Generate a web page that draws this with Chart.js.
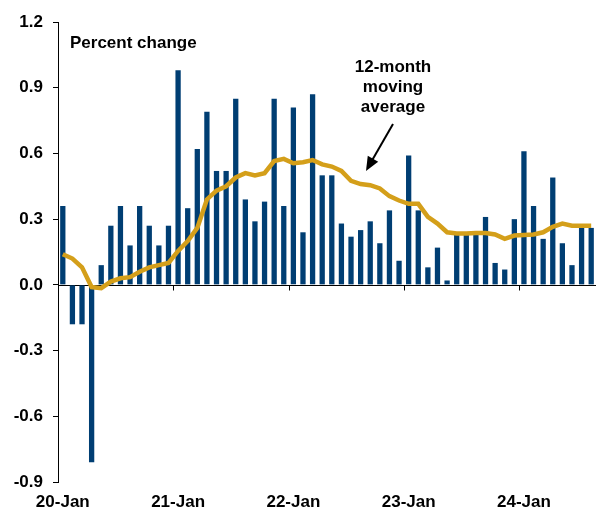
<!DOCTYPE html>
<html>
<head>
<meta charset="utf-8">
<script src="https://cdn.jsdelivr.net/npm/chart.js@4.4.1/dist/chart.umd.min.js"></script>
<style>
  html, body { margin: 0; padding: 0; background: #fff; }
  #wrap { width: 601px; height: 511px; position: relative; }
</style>
</head>
<body>
<div id="wrap"><canvas id="grafico"></canvas></div>
<script>
const months = [
    "Jan-20", "Feb-20", "Mar-20", "Apr-20", "May-20", "Jun-20", "Jul-20", "Aug-20", "Sep-20", "Oct-20", "Nov-20", "Dec-20",
    "Jan-21", "Feb-21", "Mar-21", "Apr-21", "May-21", "Jun-21", "Jul-21", "Aug-21", "Sep-21", "Oct-21", "Nov-21", "Dec-21",
    "Jan-22", "Feb-22", "Mar-22", "Apr-22", "May-22", "Jun-22", "Jul-22", "Aug-22", "Sep-22", "Oct-22", "Nov-22", "Dec-22",
    "Jan-23", "Feb-23", "Mar-23", "Apr-23", "May-23", "Jun-23", "Jul-23", "Aug-23", "Sep-23", "Oct-23", "Nov-23", "Dec-23",
    "Jan-24", "Feb-24", "Mar-24", "Apr-24", "May-24", "Jun-24", "Jul-24", "Aug-24"
];

const monthlyChange = [
    0.36, -0.18, -0.18, -0.81, 0.09, 0.27, 0.36, 0.18, 0.36, 0.27, 0.18, 0.27,
    0.98, 0.35, 0.62, 0.79, 0.52, 0.52, 0.85, 0.39, 0.29, 0.38, 0.85, 0.36,
    0.81, 0.24, 0.87, 0.50, 0.50, 0.28, 0.22, 0.25, 0.29, 0.19, 0.34, 0.11,
    0.59, 0.34, 0.08, 0.17, 0.02, 0.24, 0.24, 0.24, 0.31, 0.10, 0.07, 0.30,
    0.61, 0.36, 0.21, 0.49, 0.19, 0.09, 0.27, 0.26
];

const movingAverage = [
    0.14, 0.12, 0.08, -0.01, -0.015, 0.015, 0.03, 0.035, 0.06, 0.08, 0.09, 0.10,
    0.155, 0.20, 0.26, 0.39, 0.43, 0.45, 0.49, 0.51, 0.50, 0.51, 0.565, 0.575,
    0.555, 0.56, 0.57, 0.55, 0.54, 0.52, 0.475, 0.46, 0.455, 0.44, 0.405, 0.385,
    0.37, 0.37, 0.31, 0.28, 0.24, 0.235, 0.235, 0.237, 0.237, 0.23, 0.21, 0.225,
    0.228, 0.23, 0.24, 0.265, 0.28, 0.27, 0.27, 0.27
];

const yearLabels = ["20-Jan", "21-Jan", "22-Jan", "23-Jan", "24-Jan"];

const fonteNegrito = "bold 17px 'Liberation Sans', Arial, sans-serif";

// linha do zero, marcas de ano e textos
const extras = {
    id: "extras",
    beforeDatasetsDraw(chart) {
        const ctx = chart.ctx;
        const x = chart.scales.x;
        const y = chart.scales.y;
        const y0 = Math.round(y.getPixelForValue(0)) + 0.5;
        ctx.save();
        ctx.strokeStyle = "#000";
        ctx.lineWidth = 1;
        ctx.beginPath();
        ctx.moveTo(chart.chartArea.left, y0);
        ctx.lineTo(chart.chartArea.right, y0);
        for (let i = 12; i < months.length; i += 12) {
            const bx = Math.round((x.getPixelForValue(i - 1) + x.getPixelForValue(i)) / 2) + 0.5;
            ctx.moveTo(bx, y0);
            ctx.lineTo(bx, y0 + 5);
        }
        ctx.stroke();
        ctx.restore();
    },
    afterDraw(chart) {
        const ctx = chart.ctx;
        ctx.save();
        ctx.fillStyle = "#000";
        ctx.font = fonteNegrito;
        ctx.textBaseline = "middle";
        ctx.textAlign = "left";
        ctx.fillText("Percent change", 70, 43);
        ctx.textAlign = "center";
        ctx.fillText("12-month", 393, 67);
        ctx.fillText("moving", 393, 87);
        ctx.fillText("average", 393, 107);

        // seta
        const x1 = 393, y1 = 124, x2 = 366, y2 = 171;
        const ang = Math.atan2(y2 - y1, x2 - x1);
        ctx.strokeStyle = "#000";
        ctx.lineWidth = 2;
        ctx.beginPath();
        ctx.moveTo(x1, y1);
        ctx.lineTo(x2 - 10 * Math.cos(ang), y2 - 10 * Math.sin(ang));
        ctx.stroke();
        ctx.beginPath();
        ctx.moveTo(x2, y2);
        ctx.lineTo(x2 - 14 * Math.cos(ang) + 6 * Math.sin(ang), y2 - 14 * Math.sin(ang) - 6 * Math.cos(ang));
        ctx.lineTo(x2 - 14 * Math.cos(ang) - 6 * Math.sin(ang), y2 - 14 * Math.sin(ang) + 6 * Math.cos(ang));
        ctx.closePath();
        ctx.fill();
        ctx.restore();
    }
};

new Chart(document.getElementById("grafico"), {
    data: {
        labels: months,
        datasets: [{
            type: "line",
            label: "12-month moving average",
            data: movingAverage,
            borderColor: "#D49F1A",
            borderWidth: 4.5,
            pointRadius: 0,
            tension: 0,
            fill: false,
            order: 0
        }, {
            type: "bar",
            label: "Percent change",
            data: monthlyChange,
            backgroundColor: "#003E73",
            barPercentage: 0.55,
            categoryPercentage: 1,
            order: 1
        }]
    },
    options: {
        responsive: true,
        maintainAspectRatio: false,
        animation: false,
        layout: {
            padding: { left: 0, right: 5, top: 22, bottom: 0 }
        },
        plugins: {
            legend: { display: false },
            tooltip: { enabled: false }
        },
        scales: {
            x: {
                type: "category",
                offset: true,
                grid: { display: false },
                border: { display: false },
                ticks: {
                    autoSkip: false,
                    maxRotation: 0,
                    minRotation: 0,
                    padding: 2,
                    color: "#000",
                    font: { family: "'Liberation Sans', Arial, sans-serif", size: 17, weight: "bold" },
                    callback: function (value, index) {
                        return index % 12 === 0 ? yearLabels[index / 12] : "";
                    }
                },
                afterFit(scale) { scale.height = 29; }
            },
            y: {
                min: -0.9,
                max: 1.2,
                grid: {
                    drawOnChartArea: false,
                    drawTicks: true,
                    tickLength: 5,
                    color: "#000"
                },
                border: { display: true, color: "#000", width: 1 },
                ticks: {
                    stepSize: 0.3,
                    padding: 10,
                    color: "#000",
                    font: { family: "'Liberation Sans', Arial, sans-serif", size: 17, weight: "bold" },
                    callback: function (value) {
                        return Number(value).toFixed(1);
                    }
                },
                afterFit(scale) { scale.width = 58; }
            }
        }
    },
    plugins: [extras]
});
</script>
</body>
</html>
